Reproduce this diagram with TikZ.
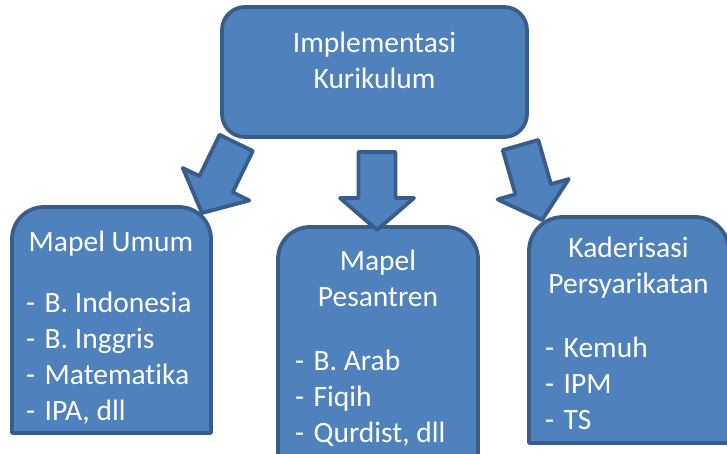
\documentclass[tikz,border=0pt]{standalone}
\usepackage{fontspec}
\setmainfont{Carlito}[Ligatures={NoCommon}, RawFeature={-liga}]
\definecolor{boxfill}{RGB}{79,129,189}
\definecolor{boxline}{RGB}{56,93,138}
\tikzset{
  shapebox/.style={draw=boxline, fill=boxfill, line width=3.8pt, line join=round},
  txt/.style={text=white, inner sep=0pt, font=\fontsize{29.5}{36}\selectfont},
  item/.style={txt, anchor=base west},
  ttl/.style={txt, anchor=base},
}
\newcommand{\bullitem}[1]{\makebox[18.5pt][l]{-}#1}
\newcommand{\blockarrow}{(0,0) -- (37,-32) -- (18.5,-32) -- (18.5,-78) -- (-18.5,-78) -- (-18.5,-32) -- (-37,-32) -- cycle}
\begin{document}
\begin{tikzpicture}[x=1pt,y=-1pt]
\useasboundingbox (0,0) rectangle (727,453);
\clip (0,0) rectangle (727,453);
% top box
\draw[shapebox, rounded corners=23pt] (222,7) rectangle (527,137);
\node[ttl] (top1) at (374.5,52) {Implementasi};
\node[ttl] (top2) at (374.5,88) {Kurikulum};
% left box
\draw[shapebox] (12,433) -- (12,239) arc[start angle=180, end angle=270, radius=32] -- (179,207) arc[start angle=270, end angle=360, radius=32] -- (211,433) -- cycle;
\node[ttl] (l0) at (111,251) {Mapel Umum};
\node[item] (l1) at (26,312) {\bullitem{B. Indonesia}};
\node[item] (l2) at (26,348) {\bullitem{B. Inggris}};
\node[item] (l3) at (26,384) {\bullitem{Matematika}};
\node[item] (l4) at (26,420) {\bullitem{IPA, dll}};
% middle box
\draw[shapebox] (278,480) -- (278,259) arc[start angle=180, end angle=270, radius=32] -- (446,227) arc[start angle=270, end angle=360, radius=32] -- (478,480) -- cycle;
\node[ttl] (m0) at (378,270) {Mapel};
\node[ttl] (m1) at (378,306) {Pesantren};
\node[item] (m2) at (295,370) {\bullitem{B. Arab}};
\node[item] (m3) at (295,406) {\bullitem{Fiqih}};
\node[item] (m4) at (295,442) {\bullitem{Qurdist, dll}};
% right box
\draw[shapebox] (529,443) -- (529,251) arc[start angle=180, end angle=270, radius=34] -- (695,217) arc[start angle=270, end angle=360, radius=34] -- (729,443) -- cycle;
\node[ttl] (r0) at (628.5,257) {Kaderisasi};
\node[ttl] (r1) at (628.5,293) {Persyarikatan};
\node[item] (r2) at (545,357) {\bullitem{Kemuh}};
\node[item] (r3) at (545,393) {\bullitem{IPM}};
\node[item] (r4) at (545,429) {\bullitem{TS}};
% block arrows
\begin{scope}[shift={(202,213)}, rotate=-26]
  \draw[shapebox] \blockarrow;
\end{scope}
\begin{scope}[shift={(377,230)}]
  \draw[shapebox] \blockarrow;
\end{scope}
\begin{scope}[shift={(542,220)}, rotate=16]
  \draw[shapebox] \blockarrow;
\end{scope}
\end{tikzpicture}
\end{document}
